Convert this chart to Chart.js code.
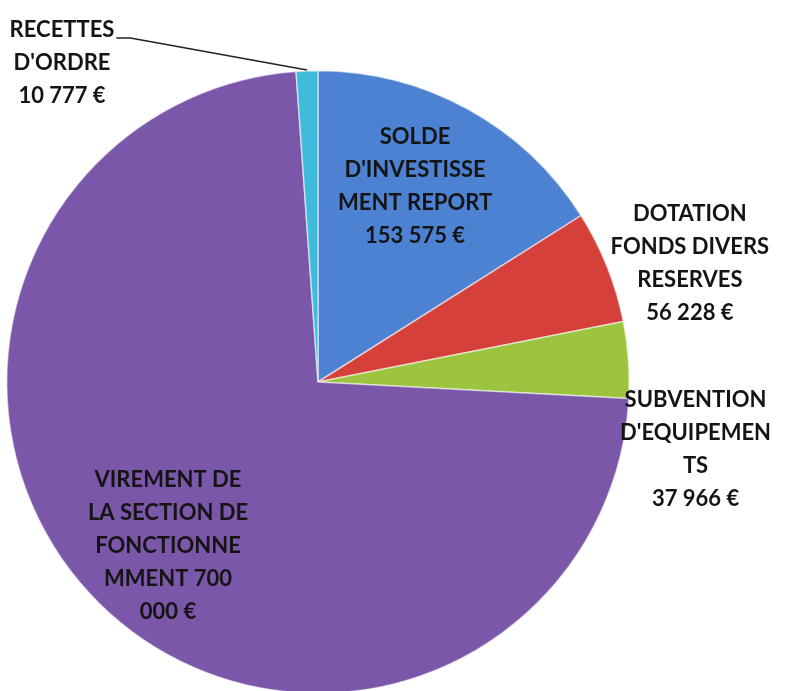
<!DOCTYPE html>
<html><head><meta charset="utf-8">
<script src="https://cdn.jsdelivr.net/npm/chart.js@4/dist/chart.umd.min.js"></script>
<style>
html,body{margin:0;padding:0;background:#fff;overflow:hidden;width:792px;height:691px}
#wrap{position:absolute;left:0;top:0;width:792px;height:720px}
</style></head><body>
<div id="wrap"><canvas id="c" width="792" height="720"></canvas></div>
<script>
const categories = [
  "SOLDE D'INVESTISSEMENT REPORT",
  "DOTATION FONDS DIVERS RESERVES",
  "SUBVENTION D'EQUIPEMENTS",
  "VIREMENT DE LA SECTION DE FONCTIONNEMENT",
  "RECETTES D'ORDRE"
];
const values = [153575, 56228, 37966, 700000, 10777];
const labelLines = [
  ["SOLDE", "D'INVESTISSE", "MENT REPORT", "153 575 €"],
  ["DOTATION", "FONDS DIVERS", "RESERVES", "56 228 €"],
  ["SUBVENTION", "D'EQUIPEMEN", "TS", "37 966 €"],
  ["VIREMENT DE", "LA SECTION DE", "FONCTIONNE", "MMENT 700", "000 €"],
  ["RECETTES", "D'ORDRE", "10 777 €"]
];
const colors = ["#4d82d2", "#d6403a", "#9cc43f", "#7b57aa", "#3fbbdc"];

// label placement: radial factor of outer radius at slice mid-angle, plus pixel nudge
const labelPlace = [
  {k:0.70, dx:-8, dy:-5},
  {k:1.20, dx:25, dy:20},
  {k:1.20, dx:5, dy:94},
  {k:0.55, dx:-30, dy:42},
  {k:1.00, dx:-245, dy:-8}
];

const labelPlugin = {
  id: 'sliceLabels',
  afterDatasetsDraw(chart) {
    const ctx = chart.ctx;
    const meta = chart.getDatasetMeta(0);
    ctx.save();
    ctx.font = "bold 22px Lato, 'Open Sans', sans-serif";
    ctx.textAlign = 'center';
    ctx.textBaseline = 'middle';
    ctx.fillStyle = '#141414';
    const lh = 33;
    meta.data.forEach((arc, i) => {
      const p = arc.getProps(['x','y','startAngle','endAngle','outerRadius'], true);
      const mid = (p.startAngle + p.endAngle) / 2;
      const pl = labelPlace[i];
      const ax = p.x + Math.cos(mid) * p.outerRadius * pl.k + pl.dx;
      const ay = p.y + Math.sin(mid) * p.outerRadius * pl.k + pl.dy;
      const lines = labelLines[i];
      const y0 = ay - (lines.length - 1) * lh / 2;
      lines.forEach((t, j) => ctx.fillText(t, ax, y0 + j * lh));
      if (i === 4) {
        // leader line from label to slice edge
        const ex = p.x + Math.cos(mid) * p.outerRadius;
        const ey = p.y + Math.sin(mid) * p.outerRadius;
        const w = ctx.measureText(lines[0]).width;
        const sx = ax + w / 2 + 2;
        const sy = y0 + 8;
        ctx.strokeStyle = '#222';
        ctx.lineWidth = 1.5;
        ctx.beginPath();
        ctx.moveTo(sx, sy);
        ctx.lineTo(sx + 14, sy);
        ctx.lineTo(ex, ey - 1);
        ctx.stroke();
      }
    });
    ctx.restore();
  }
};

new Chart(document.getElementById('c'), {
  type: 'pie',
  data: {
    labels: categories,
    datasets: [{
      data: values,
      backgroundColor: colors,
      borderColor: 'rgba(255,255,255,0.55)',
      borderWidth: 1.5
    }]
  },
  options: {
    responsive: false,
    animation: false,
    devicePixelRatio: 1,
    layout: { padding: { left: 6, right: 162, top: 70, bottom: 26 } },
    plugins: { legend: { display: false }, tooltip: { enabled: false } }
  },
  plugins: [labelPlugin]
});
</script>
</body></html>
